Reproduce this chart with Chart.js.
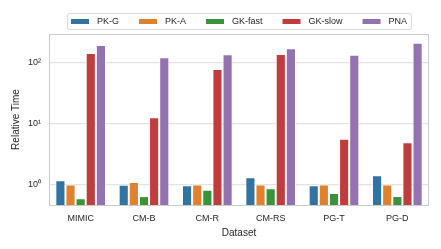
<!DOCTYPE html>
<html>
<head>
<meta charset="utf-8">
<script src="https://cdn.jsdelivr.net/npm/chart.js@4/dist/chart.umd.min.js"></script>
<style>
  html, body { margin: 0; padding: 0; background: #fff; }
</style>
</head>
<body>
<canvas id="chart" width="441" height="249"></canvas>
<script>
const datasetNames = ['MIMIC', 'CM-B', 'CM-R', 'CM-RS', 'PG-T', 'PG-D'];
const methods = ['PK-G', 'PK-A', 'GK-fast', 'GK-slow', 'PNA'];

// relative time per dataset
const pkG = [1.16, 0.98, 0.96, 1.30, 0.96, 1.40];
const pkA = [0.99, 1.09, 0.99, 0.99, 0.99, 0.99];
const gkFast = [0.59, 0.64, 0.81, 0.86, 0.72, 0.64];
const gkSlow = [142, 12.5, 77.6, 137, 5.6, 4.9];
const pna = [192, 121, 135, 170, 133, 210];

const yTicks = [1, 10, 100];
const yTickLabels = ['10\u2070', '10\u00b9', '10\u00b2'];

const colors = ['#3274a1', '#e1812c', '#3a923a', '#c03d3e', '#9372b2'];
const textColor = '#262626';
const fontFamily = '"Liberation Sans", Arial, sans-serif';

// legend drawn in a frame above the plot, like matplotlib's
const boxedLegend = {
    id: 'boxedLegend',
    afterDraw(chart) {
        const ctx = chart.ctx;
        const area = chart.chartArea;
        ctx.save();
        ctx.font = '9px ' + fontFamily;
        const sw = 18, gapIn = 8, gapOut = 20, pad = 4;
        const items = chart.data.datasets.map(d => ({
            label: d.label,
            color: d.backgroundColor,
            w: ctx.measureText(d.label).width
        }));
        const inner = items.reduce((s, it) => s + sw + gapIn + it.w, 0) + gapOut * (items.length - 1);
        const boxW = inner + pad * 2;
        const x0 = Math.round((area.left + area.right) / 2 - boxW / 2);
        const y0 = 13, h = 16;

        ctx.beginPath();
        if (ctx.roundRect) ctx.roundRect(x0 + 0.5, y0 + 0.5, boxW, h, 2);
        else ctx.rect(x0 + 0.5, y0 + 0.5, boxW, h);
        ctx.fillStyle = '#ffffff';
        ctx.fill();
        ctx.strokeStyle = '#d9d9d9';
        ctx.lineWidth = 1;
        ctx.stroke();

        let x = x0 + pad;
        const cy = y0 + h / 2 + 0.5;
        ctx.textBaseline = 'middle';
        items.forEach(it => {
            ctx.fillStyle = it.color;
            ctx.fillRect(x, cy - 2.5, sw, 5);
            x += sw + gapIn;
            ctx.fillStyle = textColor;
            ctx.fillText(it.label, x, cy);
            x += it.w + gapOut;
        });
        ctx.restore();
    }
};

// light grey spines on all four sides
const frame = {
    id: 'frame',
    afterDatasetsDraw(chart) {
        const ctx = chart.ctx;
        const a = chart.chartArea;
        ctx.save();
        ctx.strokeStyle = '#cccccc';
        ctx.lineWidth = 1;
        ctx.strokeRect(Math.round(a.left) + 0.5, Math.round(a.top) + 0.5,
            Math.round(a.right - a.left) - 1, Math.round(a.bottom - a.top));
        ctx.restore();
    }
};

const series = [pkG, pkA, gkFast, gkSlow, pna];

const ctx = document.getElementById('chart').getContext('2d');
new Chart(ctx, {
    type: 'bar',
    data: {
        labels: datasetNames,
        datasets: methods.map((m, i) => ({
            label: m,
            data: series[i],
            backgroundColor: colors[i],
            borderColor: 'rgba(255,255,255,0.75)',
            borderWidth: 1,
            categoryPercentage: 0.8,
            barPercentage: 1.0
        }))
    },
    options: {
        responsive: false,
        animation: false,
        layout: { padding: { top: 34, right: 12, left: 0, bottom: 0 } },
        plugins: {
            legend: { display: false },
            tooltip: { enabled: false }
        },
        scales: {
            x: {
                grid: { display: false, drawTicks: false },
                border: { display: false },
                ticks: { padding: 8, color: textColor, font: { family: fontFamily, size: 9 } },
                title: {
                    display: true, text: 'Dataset', color: textColor,
                    font: { family: fontFamily, size: 10 },
                    padding: { top: 2, bottom: 10 }
                },
                afterFit(scale) { scale.height = 44; }
            },
            y: {
                type: 'logarithmic',
                min: 0.457,
                max: 291,
                afterBuildTicks(scale) {
                    scale.ticks = yTicks.map(v => ({ value: v }));
                },
                ticks: {
                    autoSkip: false,
                    padding: 8,
                    color: textColor,
                    font: { family: fontFamily, size: 9 },
                    callback: (v) => yTickLabels[yTicks.indexOf(v)]
                },
                grid: { color: '#e3e3e3', lineWidth: 1.2, drawTicks: false },
                border: { display: false },
                title: {
                    display: true, text: 'Relative Time', color: textColor,
                    font: { family: fontFamily, size: 10 },
                    padding: { top: 10, bottom: 0 }
                },
                afterFit(scale) { scale.width = 49; }
            }
        }
    },
    plugins: [frame, boxedLegend]
});
</script>
</body>
</html>
